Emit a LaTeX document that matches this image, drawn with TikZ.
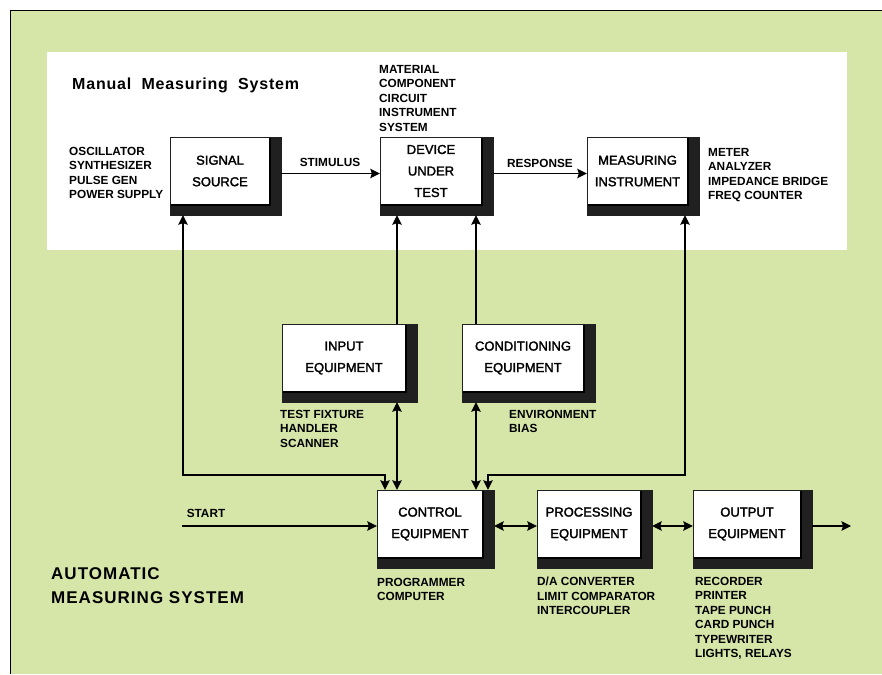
\documentclass[tikz,border=0pt]{standalone}
\usepackage{fontspec}
\setmainfont{Liberation Sans}
\newfontfamily\titlefont{Liberation Sans}[LetterSpace=5,BoldFont={Liberation Sans Bold}]
\newfontfamily\autofont{Liberation Sans}[LetterSpace=6,BoldFont={Liberation Sans Bold}]
\newfontfamily\boxfont{Liberation Sans}[FakeBold=2]
\usetikzlibrary{arrows.meta}
\definecolor{bggreen}{RGB}{214,229,168}
\definecolor{shade}{RGB}{32,32,32}
\begin{document}
\begin{tikzpicture}[x=1pt,y=-1pt,
  tip/.tip={Stealth[length=9.5pt,width=9.5pt,inset=1.5pt]},
  conn/.style={line width=1.6pt,-tip},
  both/.style={line width=1.6pt,tip-tip},
  eqbox/.style={draw=shade,fill=shade,minimum width=#1,minimum height=78pt,inner sep=0pt,line width=0.4pt,
    path picture={\fill[white,draw=black,line width=1.2pt] (path picture bounding box.north west) rectangle ([xshift=-11pt,yshift=10pt]path picture bounding box.south east);}},
  boxtext/.style={align=center,inner sep=0pt,font=\boxfont\fontsize{13}{21.5}\selectfont,xshift=-5.5pt,yshift=5pt},
  small/.style={inner sep=0pt,align=left,font=\fontsize{11.8}{14.5}\selectfont\bfseries},
  title1/.style={inner sep=0pt,font=\titlefont\fontsize{16}{19}\selectfont\bfseries},
  title2/.style={inner sep=0pt,align=left,font=\autofont\fontsize{17}{24}\selectfont\bfseries}]
\useasboundingbox (0,0) rectangle (882,674);
% background
\fill[white] (0,0) rectangle (882,674);
\fill[bggreen] (10,10) rectangle (882,674);
\draw[line width=0.8pt] (882,10) -- (10,10) -- (10,674);
\fill[white] (47,52) rectangle (847,250);

% titles
\node[title1,anchor=north west] (tman) at (72,78) {Manual\hspace{5pt} Measuring\hspace{5pt} System};
\node[title2,anchor=north west] (tauto) at (51,567) {AUTOMATIC\\MEASURING SYSTEM};

% boxes
\node[eqbox=111pt,label={[boxtext]center:SIGNAL\\SOURCE}] (sig) at (225.5,176) {};
\node[eqbox=113pt,label={[boxtext]center:DEVICE\\UNDER\\TEST}] (dut) at (436.5,176) {};
\node[eqbox=112pt,label={[boxtext]center:MEASURING\\INSTRUMENT}] (mi) at (643,176) {};
\node[eqbox=135pt,label={[boxtext]center:INPUT\\EQUIPMENT}] (inp) at (349.5,363) {};
\node[eqbox=133pt,label={[boxtext]center:CONDITIONING\\EQUIPMENT}] (cond) at (528.5,363) {};
\node[eqbox=117pt,label={[boxtext]center:CONTROL\\EQUIPMENT}] (ctrl) at (435.5,529) {};
\node[eqbox=115pt,label={[boxtext]center:PROCESSING\\EQUIPMENT}] (proc) at (594.5,529) {};
\node[eqbox=119pt,label={[boxtext]center:OUTPUT\\EQUIPMENT}] (out) at (752.5,529) {};

% side labels
\node[small,anchor=north west] (lmat) at (379,65) {MATERIAL\\COMPONENT\\CIRCUIT\\INSTRUMENT\\SYSTEM};
\node[small,anchor=north west] (losc) at (69,147) {OSCILLATOR\\SYNTHESIZER\\PULSE GEN\\POWER SUPPLY};
\node[small,anchor=north west] (lmet) at (708,148) {METER\\ANALYZER\\IMPEDANCE BRIDGE\\FREQ COUNTER};
\node[small,anchor=north west] (ltest) at (280,410) {TEST FIXTURE\\HANDLER\\SCANNER};
\node[small,anchor=north west] (lenv) at (509,410) {ENVIRONMENT\\BIAS};
\node[small,anchor=north west] (lprog) at (377,578) {PROGRAMMER\\COMPUTER};
\node[small,anchor=north west] (lda) at (537,577) {D/A CONVERTER\\LIMIT COMPARATOR\\INTERCOUPLER};
\node[small,anchor=north west] (lrec) at (695,577) {RECORDER\\PRINTER\\TAPE PUNCH\\CARD PUNCH\\TYPEWRITER\\LIGHTS, RELAYS};
\node[small] (lstim) at (330,162.5) {STIMULUS};
\node[small] (lresp) at (540,163) {RESPONSE};
\node[small] (lstart) at (206,513) {START};

% helper coordinates
\coordinate (xs) at (183,0);
\coordinate (xe) at (385,0);
\coordinate (xa) at (397,0);
\coordinate (xb) at (476,0);
\coordinate (xc) at (488,0);
\coordinate (xd) at (685,0);
\coordinate (yc) at (0,475);
\coordinate (st) at (182,526);
\coordinate (fin) at (851,526);

% connectors
\draw[conn] ([yshift=2.5pt]sig.east) -- ([yshift=2.5pt]dut.west);
\draw[conn] ([yshift=2.5pt]dut.east) -- ([yshift=2.5pt]mi.west);
\draw[both] (sig.south -| xs) -- (xs |- yc) -| (ctrl.north -| xe);
\draw[both] (mi.south -| xd) -- (xd |- yc) -| (ctrl.north -| xc);
\draw[conn] (inp.north -| xa) -- (dut.south -| xa);
\draw[both] (inp.south -| xa) -- (ctrl.north -| xa);
\draw[conn] (cond.north -| xb) -- (dut.south -| xb);
\draw[both] (cond.south -| xb) -- (ctrl.north -| xb);
\draw[conn] (st) -- (ctrl.west |- st);
\draw[both] (ctrl.east |- st) -- (proc.west |- st);
\draw[both] (proc.east |- st) -- (out.west |- st);
\draw[conn] (out.east |- st) -- (fin);
\end{tikzpicture}
\end{document}
